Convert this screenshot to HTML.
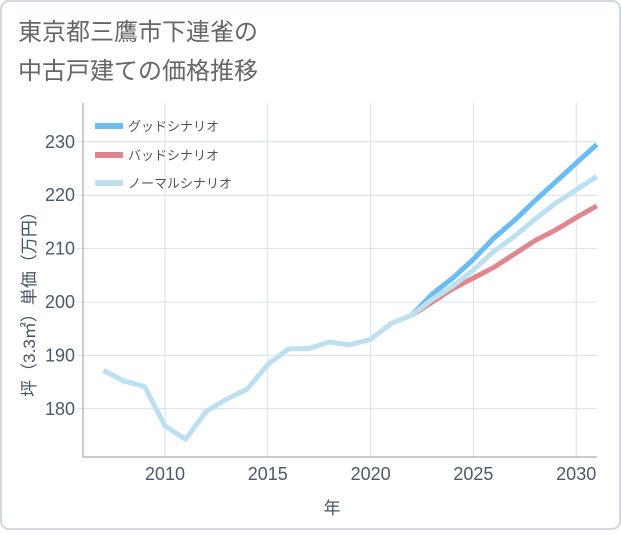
<!DOCTYPE html>
<html><head><meta charset="utf-8"><style>
body{margin:0;background:#fff}
svg text{font-family:"Liberation Sans","Noto Sans CJK JP",sans-serif}
</style></head><body>
<svg id="c" width="621" height="530" xmlns="http://www.w3.org/2000/svg">
<rect x="1" y="1" width="619" height="528" rx="8" fill="#fff" stroke="#d0d7de" stroke-width="2"/>
<text x="18" y="40" font-size="24" fill="#666">東京都三鷹市下連雀の</text>
<text x="18" y="79" font-size="24" fill="#666">中古戸建ての価格推移</text>
<g id="grid"></g>
<g id="axes"></g>
<g id="series"></g>
<text x="332" y="514" font-size="17" fill="#456" text-anchor="middle">年</text>
<text transform="translate(35,300) rotate(-90)" font-size="17" fill="#456" text-anchor="middle">坪（3.3㎡）単価（万円）</text>
<g>
<line x1="95" y1="126" x2="123" y2="126" stroke="#6bbcf2" stroke-width="6"/>
<text x="128" y="131" font-size="13" fill="#555">グッドシナリオ</text>
<line x1="95" y1="155" x2="123" y2="155" stroke="#e0868e" stroke-width="6"/>
<text x="128" y="160" font-size="13" fill="#555">バッドシナリオ</text>
<line x1="95" y1="183" x2="123" y2="183" stroke="#bde0f0" stroke-width="6"/>
<text x="128" y="188" font-size="13" fill="#555">ノーマルシナリオ</text>
</g>
</svg>
<script>
const histYears=[2007,2008,2009,2010,2011,2012,2013,2014,2015,2016,2017,2018,2019,2020,2021,2022];
const histValues=[187.2,185.2,184.2,176.8,174.3,179.5,181.8,183.7,188.3,191.2,191.3,192.5,192,193,196,197.5];
const futYears=[2022,2023,2024,2025,2026,2027,2028,2029,2030,2031];
const goodValues=[197.5,201.5,204.5,208,212,215.3,219,222.5,226,229.5];
const badValues=[197.5,200,202.5,204.5,206.5,209,211.5,213.5,215.8,218];
const normalValues=[197.5,200.5,203,206,209.5,212.3,215.5,218.5,221,223.5];
const xTicks=[2010,2015,2020,2025,2030];
const yTicks=[180,190,200,210,220,230];
const L=83,R=597,T=103,B=457;
const x=v=>165+(v-2010)*20.56;
const y=v=>302-(v-200)*5.34;
const NS="http://www.w3.org/2000/svg";
function mk(tag,parent,attrs){const e=document.createElementNS(NS,tag);for(const k in attrs)e.setAttribute(k,attrs[k]);document.querySelector(parent).appendChild(e);return e;}
xTicks.forEach(t=>{
 const g=mk('line','#grid',{x1:x(t),x2:x(t),y1:T,y2:B,stroke:'#d5e0ea'});
 
 
 const tk=mk('text','#axes',{x:x(t),y:B+23,'font-size':18,fill:'#4a5a6a','text-anchor':'middle'});
 tk.textContent=t;
 
 
});
yTicks.forEach(t=>{
 const g=mk('line','#grid',{x1:L-6,x2:R,y1:y(t),y2:y(t),stroke:'#d5e0ea'});
 
 
 const tk=mk('text','#axes',{x:L-8,y:y(t)+6,'font-size':18,fill:'#4a5a6a','text-anchor':'end'});
 tk.textContent=t;
 
 
});
const ax=mk('path','#axes',{d:`M${L},${T}V${B}H${R}`,fill:'none',stroke:'#999'});


function line(xs,vs,color,name){
 const p=mk('polyline','#series',{points:xs.map((v,i)=>x(v)+','+y(vs[i])).join(' '),fill:'none',stroke:color,'stroke-width':5,'stroke-linejoin':'round'});
 
 
}
line(futYears,goodValues,'#6bbcf2','good-scenario-line');
line(futYears,badValues,'#e0868e','bad-scenario-line');
line(futYears,normalValues,'#bde0f0','normal-scenario-line');
line(histYears,histValues,'#bde0f0','historical-line');
</script>
</body></html>
